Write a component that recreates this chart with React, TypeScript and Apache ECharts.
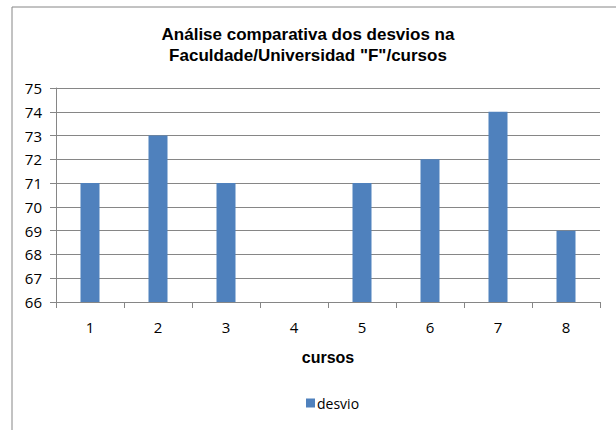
import React, { useEffect, useRef } from "react";
import * as echarts from "echarts";

const categories = ["1", "2", "3", "4", "5", "6", "7", "8"];
const desvio = [71, 73, 71, 66, 71, 72, 74, 69];
const titleLines = ["Análise comparativa dos desvios na", "Faculdade/Universidad \"F\"/cursos"];
const seriesName = "desvio";
const xAxisName = "cursos";

export default function App() {
  const ref = useRef<HTMLDivElement>(null);
  useEffect(() => {
    if (!ref.current) return;
    const chart = echarts.init(ref.current, undefined, { renderer: "svg" });
    const font = "'Open Sans', 'Noto Sans', sans-serif";
    const boldFont = "'Liberation Sans', Arial, sans-serif";
    chart.setOption({
      animation: false,
      backgroundColor: "#ffffff",
      graphic: [
        {
          type: "rect",
          shape: { x: 12, y: 7, width: 640, height: 460 },
          style: { fill: "none", stroke: "#868686", lineWidth: 1 },
          silent: true,
        },
      ],
      title: {
        text: titleLines.join("\n"),
        left: "center",
        top: 19,
        textStyle: {
          fontFamily: boldFont,
          fontSize: 17,
          fontWeight: "bold",
          color: "#000000",
          lineHeight: 21,
        },
      },
      grid: { left: 56, right: 16, top: 88, bottom: 128, containLabel: false },
      legend: {
        data: [seriesName],
        left: 301,
        top: 391,
        icon: "rect",
        itemWidth: 9,
        itemHeight: 9,
        itemGap: 4,
        textStyle: { fontFamily: font, fontSize: 14, color: "#000000", padding: [0, 0, 0, -3] },
      },
      xAxis: {
        type: "category",
        data: categories,
        name: xAxisName,
        nameLocation: "middle",
        nameGap: 47,
        nameTextStyle: {
          fontFamily: boldFont,
          fontSize: 16,
          fontWeight: "bold",
          color: "#000000",
        },
        axisLine: { show: true, lineStyle: { color: "#868686" } },
        axisTick: { show: true, length: 6, alignWithLabel: false, lineStyle: { color: "#868686" } },
        axisLabel: { margin: 17, fontFamily: font, fontSize: 15, color: "#000000" },
      },
      yAxis: {
        type: "value",
        min: 66,
        max: 75,
        interval: 1,
        axisLine: { show: true, lineStyle: { color: "#868686" } },
        axisTick: { show: true, length: 6, lineStyle: { color: "#868686" } },
        axisLabel: { margin: 14, fontFamily: font, fontSize: 15, color: "#000000" },
        splitLine: { show: true, lineStyle: { color: "#868686", width: 1 } },
      },
      series: [
        {
          name: seriesName,
          type: "bar",
          data: desvio,
          barWidth: 19,
          itemStyle: { color: "#4F81BD" },
        },
      ],
    });
    return () => chart.dispose();
  }, []);
  return (
    <div
      ref={ref}
      style={{ position: "fixed", left: 0, top: 0, width: 616, height: 430 }}
    />
  );
}
